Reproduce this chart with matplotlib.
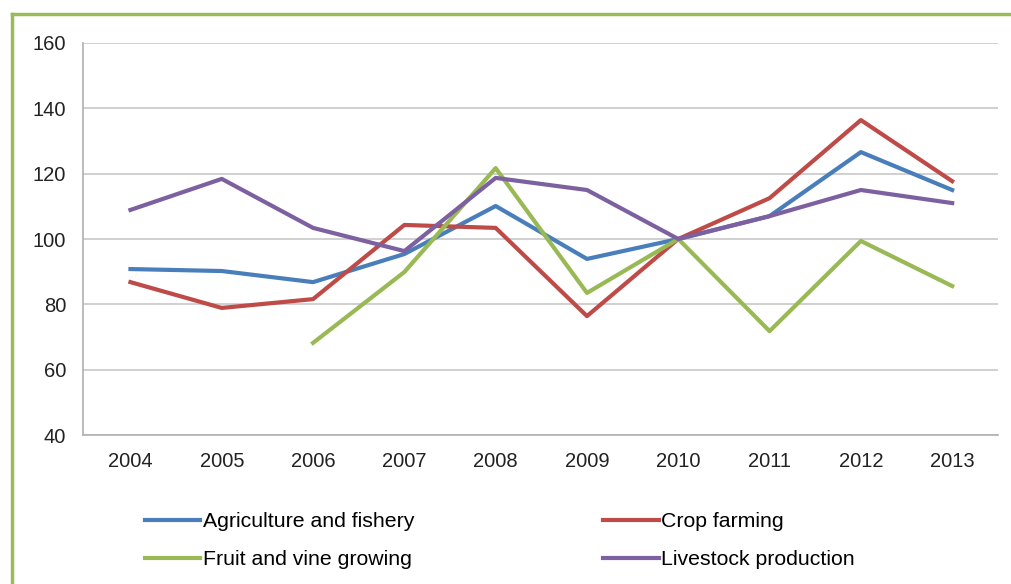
import matplotlib.pyplot as plt
from matplotlib.lines import Line2D
import numpy as np

plt.rcParams['font.family'] = ['Liberation Sans', 'DejaVu Sans']

years = [2004, 2005, 2006, 2007, 2008, 2009, 2010, 2011, 2012, 2013]
agri = [90.8, 90.2, 86.8, 95.4, 110.1, 93.9, 100, 107, 126.6, 115]
crop = [86.8, 78.9, 81.6, 104.3, 103.4, 76.4, 100, 112.5, 136.4, 117.7]
fruit = [np.nan, np.nan, 68.2, 89.9, 121.7, 83.5, 100, 71.8, 99.4, 85.6]
livestock = [108.9, 118.4, 103.4, 96.3, 118.7, 115, 100, 107, 115, 111]

fig = plt.figure(figsize=(10.12, 5.84), dpi=100)
ax = fig.add_axes([0.082, 0.2551, 0.904, 0.6713])

x = np.arange(len(years))
l1, = ax.plot(x, agri, color='#4a7ebb', lw=3, label='Agriculture and fishery')
l2, = ax.plot(x, crop, color='#be4b48', lw=3, label='Crop farming')
l3, = ax.plot(x, fruit, color='#98b954', lw=3, label='Fruit and vine growing')
l4, = ax.plot(x, livestock, color='#7d60a0', lw=3, label='Livestock production')

ax.set_ylim(40, 160)
ax.set_yticks(range(40, 161, 20))
ax.set_xlim(-0.52, 9.5)
ax.set_xticks(x)
ax.set_xticklabels([str(y) for y in years])
ax.tick_params(length=0, labelsize=14.5, colors='#222222')
ax.tick_params(axis='y', pad=12)
ax.tick_params(axis='x', pad=12)
ax.yaxis.grid(True, color='#c8c8c8', lw=1.2)
ax.set_axisbelow(True)
for s in ['top', 'right']:
    ax.spines[s].set_visible(False)
for s in ['left', 'bottom']:
    ax.spines[s].set_color('#b0b0b0')
    ax.spines[s].set_linewidth(1.2)

fig.legend(handles=[l1, l3, l2, l4], ncol=2, frameon=False, fontsize=15.3,
           loc='upper left', bbox_to_anchor=(0.135, 0.137),
           handlelength=2.6, handletextpad=0.12, columnspacing=8.9,
           labelspacing=0.88, borderaxespad=0)

# green frame around the chart
fig.add_artist(Line2D([0.0117, 1.0], [0.9760, 0.9760], color='#9bbb59', lw=2.5,
                      transform=fig.transFigure))
fig.add_artist(Line2D([0.0117, 0.0117], [0.0, 0.9760], color='#9bbb59', lw=2.5,
                      transform=fig.transFigure))

fig.savefig('out.png', dpi=100)
